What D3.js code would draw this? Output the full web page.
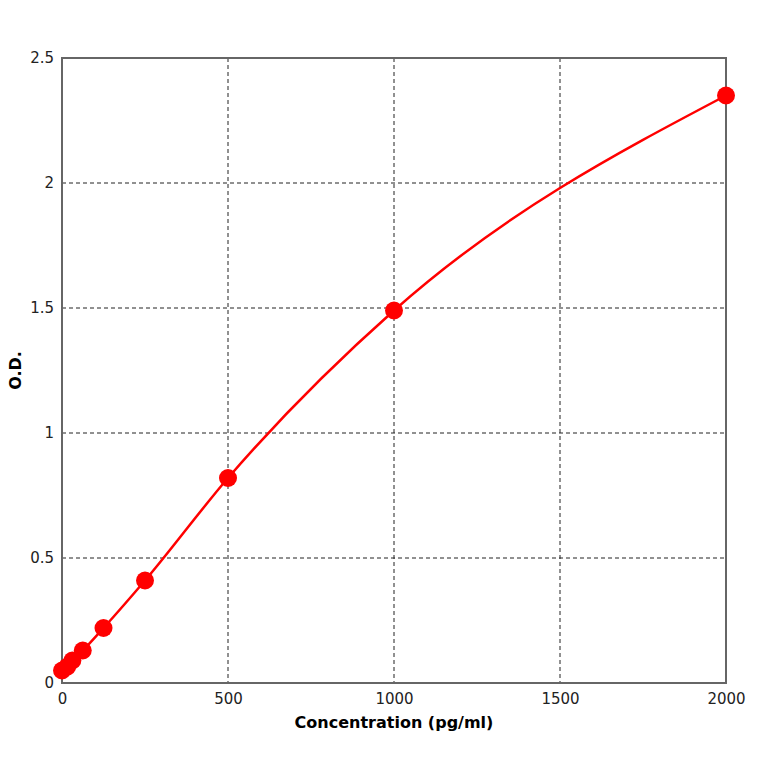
<!DOCTYPE html>
<html lang="en">
<head>
<meta charset="UTF-8">
<script src="https://d3js.org/d3.v7.min.js"></script>
<style>
body { margin: 0; background: #fff; }
.tick text { font-family: "DejaVu Sans", sans-serif; font-size: 15px; fill: #222; }
.grid line { stroke: #222; stroke-dasharray: 4,3; stroke-width: 1; }
</style>
</head>
<body>
<div id="container"></div>
<script>
const concentration = [0, 15.6, 31.25, 62.5, 125, 250, 500, 1000, 2000];
const od = [0.05, 0.065, 0.09, 0.13, 0.22, 0.41, 0.82, 1.49, 2.35];
const xTicks = [0, 500, 1000, 1500, 2000];
const yTicks = [0, 0.5, 1, 1.5, 2, 2.5];

const width = 764, height = 764;
const pLeft = 62, pRight = 726, pTop = 58, pBottom = 683;

const svg = d3.select("#container").append("svg")
    .attr("width", width).attr("height", height);

const x = d3.scaleLinear().domain([0, 2000]).range([pLeft, pRight]);
const y = d3.scaleLinear().domain([0, 2.5]).range([pBottom, pTop]);

// grid
const grid = svg.append("g").attr("class", "grid");
grid.selectAll(".gx").data(xTicks.slice(1, -1)).enter().append("line")
    .attr("x1", d => x(d)).attr("x2", d => x(d)).attr("y1", pTop).attr("y2", pBottom);
grid.selectAll(".gy").data(yTicks.slice(1, -1)).enter().append("line")
    .attr("y1", d => y(d)).attr("y2", d => y(d)).attr("x1", pLeft).attr("x2", pRight);

// frame
svg.append("rect").attr("x", pLeft).attr("y", pTop)
    .attr("width", pRight - pLeft).attr("height", pBottom - pTop)
    .attr("fill", "none").attr("stroke", "#666").attr("stroke-width", 2);

// axes
const xAxis = svg.append("g").attr("transform", `translate(0,${pBottom})`)
    .call(d3.axisBottom(x).tickValues(xTicks).tickSize(0).tickPadding(10).tickFormat(d3.format("d")));
const yAxis = svg.append("g").attr("transform", `translate(${pLeft},0)`)
    .call(d3.axisLeft(y).tickValues(yTicks).tickSize(0).tickPadding(8).tickFormat(d => d));
[xAxis, yAxis].forEach(a => a.select(".domain").remove());

// curve
svg.append("path").datum(concentration.map((c, i) => [c, od[i]]))
    .attr("fill", "none").attr("stroke", "#ff0000").attr("stroke-width", 2.5)
    .attr("d", d3.line().x(d => x(d[0])).y(d => y(d[1])).curve(d3.curveMonotoneX));

svg.selectAll(".pt").data(concentration).enter().append("circle")
    .attr("cx", d => x(d)).attr("cy", (d, i) => y(od[i]))
    .attr("r", 9).attr("fill", "#ff0000");

// labels
svg.append("text").attr("x", (pLeft + pRight) / 2).attr("y", 728)
    .attr("text-anchor", "middle").attr("font-family", "DejaVu Sans, sans-serif")
    .attr("font-weight", "bold").attr("font-size", 16).text("Concentration (pg/ml)");
svg.append("text").attr("transform", `translate(21,${(pTop + pBottom) / 2}) rotate(-90)`)
    .attr("text-anchor", "middle").attr("font-family", "DejaVu Sans, sans-serif")
    .attr("font-weight", "bold").attr("font-size", 16).text("O.D.");
</script>
</body>
</html>
